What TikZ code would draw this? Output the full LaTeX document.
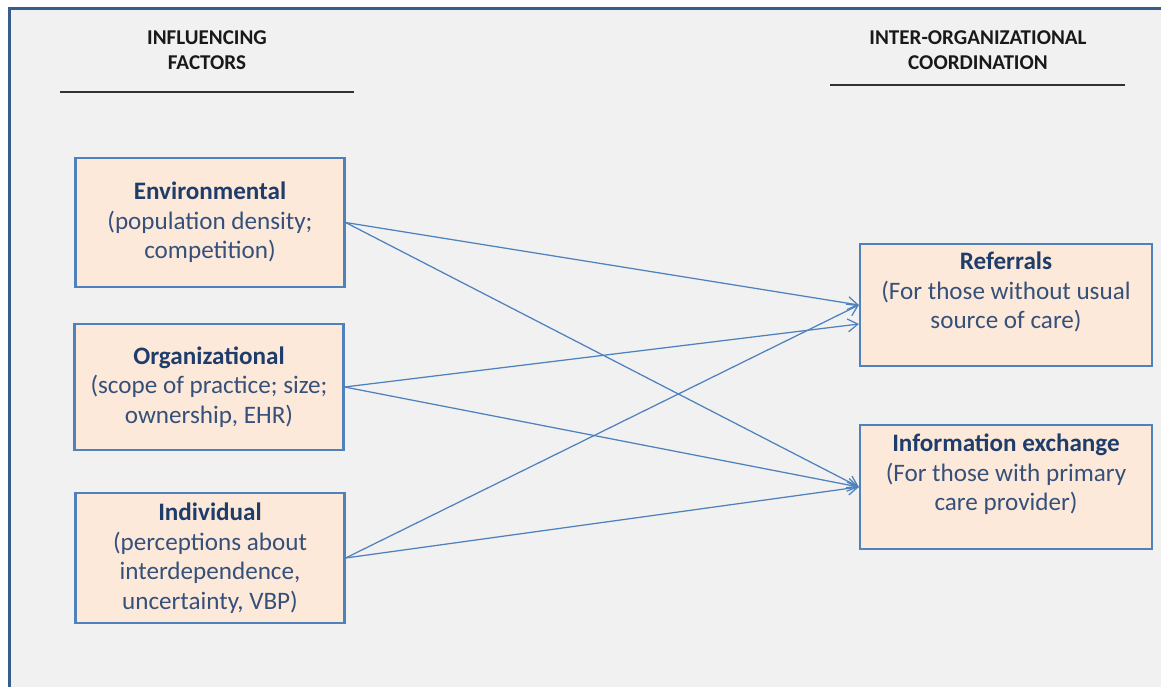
\documentclass[tikz,border=0pt]{standalone}
\usepackage{fontspec}
\setmainfont{Carlito}
\usepackage{tikz}
\usetikzlibrary{arrows.meta}
\usepackage{xcolor}
\definecolor{frameblue}{HTML}{385D8A}
\definecolor{boxline}{HTML}{4F81BD}
\definecolor{boxfill}{HTML}{FDE9D9}
\definecolor{panel}{HTML}{F1F1F1}
\definecolor{titleblue}{HTML}{1F3D6B}
\definecolor{bodyblue}{HTML}{35507A}

\begin{document}
\begin{tikzpicture}[x=0.02cm,y=-0.02cm,
  >={Straight Barb[length=2mm,width=2.6mm]},
  factor/.style={draw=boxline,line width=0.045cm,fill=boxfill,align=center,
    text=bodyblue,font=\fontsize{14.3}{16.8}\selectfont,inner sep=0pt,
    minimum width=5.38cm},
  outcome/.style={factor,minimum width=5.84cm},
  heading/.style={align=center,text=black!90,font=\fontsize{12}{14.2}\selectfont\bfseries},
  link/.style={->,boxline,line width=0.025cm}]
\useasboundingbox (0,0) rectangle (1161,687);
\fill[white] (0,0) rectangle (1161,687);
\fill[panel] (9.5,8.5) rectangle (1170,700);
\draw[frameblue,line width=0.07cm] (9.5,700) -- (9.5,8.5) -- (1170,8.5);
% headings
\node[heading] (hleft) at (207,50) {INFLUENCING\\FACTORS};
\node[heading] (hright) at (978,50) {INTER-ORGANIZATIONAL\\COORDINATION};
\draw[black!80,line width=0.025cm] (60,92) -- (354,92);
\draw[black!80,line width=0.025cm] (830,85) -- (1125,85);
% boxes
\node[factor,minimum height=2.58cm] (env) at (210,222.5)
  {\textbf{\color{titleblue}Environmental}\\(population density;\\competition)};
\node[factor,minimum height=2.52cm] (org) at (209,387)
  {\textbf{\color{titleblue}Organizational}\\(scope of practice; size;\\ownership, EHR)};
\node[factor,minimum height=2.6cm] (ind) at (210,558)
  {\textbf{\color{titleblue}Individual}\\(perceptions about\\interdependence,\\uncertainty, VBP)};
\node[outcome,minimum height=2.44cm] (ref) at (1006,305)
  {\textbf{\color{titleblue}Referrals}\\(For those without usual\\source of care)\\\mbox{}};
\node[outcome,minimum height=2.48cm] (info) at (1006,487)
  {\textbf{\color{titleblue}Information exchange}\\(For those with primary\\care provider)\\\mbox{}};
% links
\draw[link] (env.east) -- (ref.west);
\draw[link] (env.east) -- (info.west);
\draw[link] (org.east) -- ([yshift=-0.38cm]ref.west);
\draw[link] (org.east) -- (info.west);
\draw[link] (ind.east) -- (ref.west);
\draw[link] (ind.east) -- (info.west);
\end{tikzpicture}
\end{document}
